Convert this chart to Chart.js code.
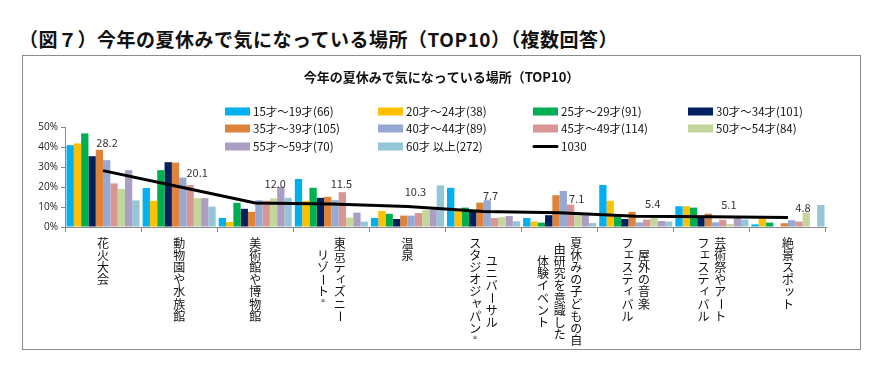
<!DOCTYPE html>
<html><head><meta charset="utf-8">
<script src="https://cdn.jsdelivr.net/npm/chart.js@4/dist/chart.umd.min.js"></script>
<style>
html,body{margin:0;padding:0;background:#fff;width:884px;height:375px;overflow:hidden;}
#title{position:absolute;left:19px;top:27px;font-family:"Noto Sans CJK JP";font-weight:bold;font-size:19px;line-height:24px;letter-spacing:0.5px;color:#111;white-space:nowrap;}
#box{position:absolute;left:22px;top:55px;width:837px;height:293px;border:1.5px solid #8c8c8c;}
#box canvas{position:absolute;left:0;top:0;}
</style></head>
<body>
<div id="title">（図７）今年の夏休みで気になっている場所（TOP10）（複数回答）</div>
<div id="box"><canvas id="c" width="837" height="293"></canvas></div>
<script>
// ---- data ----
const categories = [
  ['花火大会'],
  ['動物園や水族館'],
  ['美術館や博物館'],
  ['東京ディズニー','リゾート®'],
  ['温泉'],
  ['ユニバーサル','スタジオジャパン®'],
  ['夏休みの子どもの自','由研究を意識した','体験イベント'],
  ['屋外の音楽','フェスティバル'],
  ['芸術祭やアート','フェスティバル'],
  ['絶景スポット']
];
const seriesNames = ['15才～19才(66)','20才～24才(38)','25才～29才(91)','30才～34才(101)',
  '35才～39才(105)','40才～44才(89)','45才～49才(114)','50才～54才(84)',
  '55才～59才(70)','60才 以上(272)'];
const totalName = '1030';
const age15_19 = [40.9, 19.5, 4.5, 24.0, 4.5, 19.6, 4.5, 21.0, 10.4, 1.3];
const age20_24 = [41.8, 13.1, 2.5, 13.1, 8.0, 7.9, 2.7, 13.1, 10.4, 4.4];
const age25_29 = [46.8, 28.4, 12.1, 19.6, 6.6, 9.7, 2.2, 5.4, 9.7, 2.2];
const age30_34 = [35.4, 32.4, 9.1, 14.6, 4.0, 8.4, 5.9, 4.0, 4.5, 0];
const age35_39 = [38.6, 32.2, 7.6, 15.1, 5.7, 12.2, 15.9, 7.6, 6.7, 1.9];
const age40_44 = [33.4, 24.7, 13.4, 13.4, 5.7, 13.4, 18.0, 2.3, 2.3, 3.4];
const age45_49 = [21.8, 21.0, 13.1, 17.4, 7.0, 4.5, 11.2, 3.7, 3.6, 2.7];
const age50_54 = [19.0, 14.4, 14.3, 4.7, 8.4, 4.9, 5.9, 4.5, 1.5, 7.1];
const age55_59 = [28.4, 14.4, 20.1, 7.2, 8.7, 5.5, 5.9, 3.0, 4.7, 0];
const age60up  = [13.3, 10.2, 14.6, 2.7, 20.8, 2.9, 2.0, 2.7, 3.7, 11.0];
const total    = [28.2, 20.1, 12.0, 11.5, 10.3, 7.7, 7.1, 5.4, 5.1, 4.8];
const yTicks = [0, 10, 20, 30, 40, 50];

// ---- styles ----
const barColors = ['#00B0F0','#FFC000','#00B050','#002060','#DF833B','#95A9D3','#D99594','#C3D69B','#AC9DC4','#93C6D6'];
const seriesData = [age15_19, age20_24, age25_29, age30_34, age35_39, age40_44, age45_49, age50_54, age55_59, age60up];
const JP = '"Noto Sans CJK JP", sans-serif';
const labelNudge = [[4,-28],[18,-14],[20,-19],[10,-20],[8,-15],[7,-16],[17,-14],[17,-12],[17,-12],[15,-10]];
const legendCols = [202, 355, 510, 665];
const legendRows = [55.5, 72.5, 90.5];

const datasets = seriesData.map((d, i) => ({
  type: 'bar', label: seriesNames[i], data: d, backgroundColor: barColors[i],
  borderWidth: 0, categoryPercentage: 0.96, barPercentage: 1.0, order: 1
}));
datasets.push({
  type: 'line', label: totalName, data: total, borderColor: '#000', borderWidth: 3,
  pointRadius: 0, tension: 0, fill: false, order: 0
});

const decor = {
  id: 'decor',
  afterDraw(chart) {
    const ctx = chart.ctx;
    const xs = chart.scales.x, ys = chart.scales.y;
    ctx.save();
    // chart title
    ctx.fillStyle = '#111';
    ctx.font = 'bold 13px ' + JP;
    ctx.textAlign = 'center'; ctx.textBaseline = 'middle';
    ctx.fillText('今年の夏休みで気になっている場所（TOP10）', chart.width / 2, 21);
    // legend grid
    ctx.font = '11.5px ' + JP;
    ctx.textAlign = 'left';
    chart.data.datasets.forEach((ds, i) => {
      const cx = legendCols[i % 4], cy = legendRows[Math.floor(i / 4)];
      if (ds.type === 'line') {
        ctx.strokeStyle = '#000'; ctx.lineWidth = 3; ctx.lineCap = 'round';
        ctx.beginPath(); ctx.moveTo(cx + 1, cy); ctx.lineTo(cx + 24, cy); ctx.stroke();
      } else {
        ctx.fillStyle = ds.backgroundColor;
        ctx.fillRect(cx, cy - 4, 25, 8);
      }
      ctx.fillStyle = '#111';
      ctx.fillText(ds.label, cx + 28, cy + 0.5);
    });
    // line value labels
    ctx.font = '11px ' + JP;
    ctx.fillStyle = '#333';
    ctx.textAlign = 'center';
    const meta = chart.getDatasetMeta(chart.data.datasets.length - 1);
    meta.data.forEach((pt, i) => {
      const n = labelNudge[i];
      ctx.fillText(total[i].toFixed(1), pt.x + n[0], pt.y + n[1]);
    });
    // vertical category labels (columns right to left)
    ctx.font = '12px ' + JP;
    ctx.fillStyle = '#111';
    const pitch = 12.2, colGap = 16.6;
    const small = 'ァィゥェォッャュョぁぃぅぇぉっゃゅょ';
    categories.forEach((cols, i) => {
      const cxm = xs.getPixelForValue(i);
      const maxLen = Math.max(...cols.map(c => [...c].length));
      const top0 = ys.bottom + 10;
      cols.forEach((col, j) => {
        const x = cxm + ((cols.length - 1) / 2 - j) * colGap;
        const chars = [...col];
        const top = top0 + (maxLen - chars.length) * pitch / 2;
        chars.forEach((ch, k) => {
          const y = top + k * pitch + pitch / 2;
          ctx.save();
          ctx.translate(x, y);
          if (ch === 'ー' || ch === '～') ctx.rotate(Math.PI / 2);
          if (small.includes(ch)) ctx.translate(1.5, -1.5);
          if (ch === '®') { ctx.font = '8px ' + JP; ctx.translate(0, -2); }
          ctx.textAlign = 'center'; ctx.textBaseline = 'middle';
          ctx.fillText(ch, 0, 0);
          ctx.restore();
        });
      });
    });
    ctx.restore();
  }
};

new Chart(document.getElementById('c'), {
  data: { labels: categories, datasets },
  options: {
    responsive: false, animation: false, devicePixelRatio: 1,
    layout: { padding: { top: 71, right: 34, left: 0, bottom: 0 } },
    plugins: { legend: { display: false }, title: { display: false }, tooltip: { enabled: false } },
    scales: {
      x: {
        afterFit: s => { s.height = 122; },
        ticks: { display: false },
        grid: { display: true, drawOnChartArea: false, offset: true, tickLength: 5, color: '#888' },
        border: { display: true, color: '#888', width: 1 }
      },
      y: {
        min: 0, max: 50,
        afterFit: s => { s.width = 42; },
        afterBuildTicks: s => { s.ticks = yTicks.map(v => ({ value: v })); },
        ticks: { callback: v => v + '%', font: { family: 'Open Sans', size: 10 }, color: '#222', padding: 3 },
        grid: { display: true, drawOnChartArea: false, tickLength: 4, color: '#888' },
        border: { display: true, color: '#888', width: 1 }
      }
    }
  },
  plugins: [decor]
});
</script>
</body></html>
